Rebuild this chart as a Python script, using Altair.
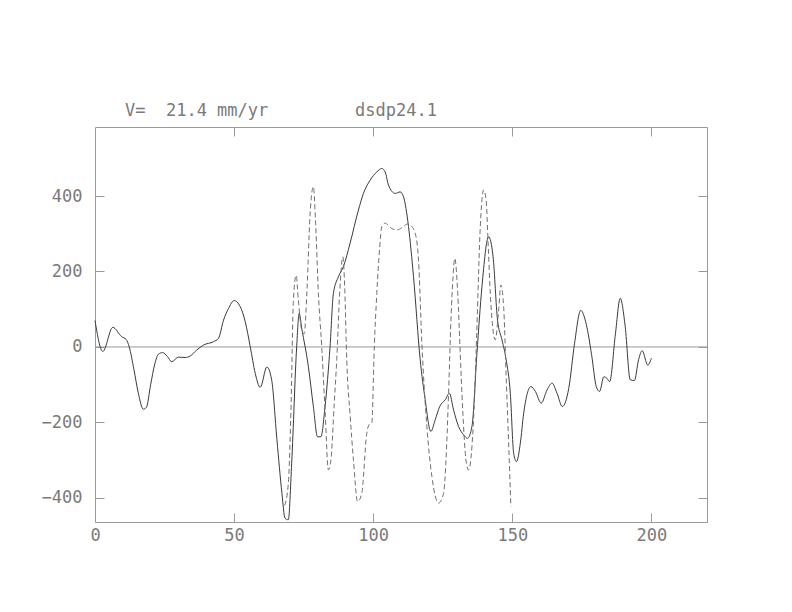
import altair as alt
import pandas as pd

# ---- data ----
solid_x = [0, 2.8, 6.4, 9.6, 11.2, 12.3, 14, 15.5, 17.4, 18.5, 20, 21.5, 22.8, 24.3, 26, 27.6,
           30, 32.4, 34.2, 36.6, 39, 42.6, 44.4, 46.2, 48, 50, 52.2, 54, 55.8, 57.6, 59.4,
           61.8, 63.5, 65.4, 67.2, 68.3, 69.5, 70.7, 72.5, 73.4, 74.3, 76.7, 78.5, 80, 81.2,
           82.7, 84.5, 85.7, 87.5, 89.3, 91.7, 94.7, 96.5, 98.9, 101.3, 103.1, 104.3, 105.5,
           107.9, 109.7, 110.9, 112.7, 114.5, 116.9, 118.7, 120.7, 122.3, 123.9, 125.9, 127.4,
           128.9, 130.7, 132.5, 133.9, 135.5, 137.3, 139.1, 141.5, 143.1, 144.7, 146.3, 147.8,
           149.3, 150.5, 151.5, 152.9, 154.1, 156.7, 158.3, 160.4, 162.5, 164.3, 166.1, 168,
           170.3, 172.4, 174.6, 176.6, 178.5, 180.2, 181.4, 182.9, 184, 185, 187.1, 188.8,
           190.6, 192.4, 193.9, 195.4, 196.7, 198.7, 200]
solid_y = [70, -12, 52, 27, 20, 0, -60, -120, -165, -160, -100, -45, -19, -15, -25, -39,
           -27, -28, -24, -8, 5, 14, 23, 71, 102, 123, 107, 67, 1, -70, -107,
           -53, -87, -246, -388, -454, -458, -308, 1, 89, 50, -52, -158, -238, -238,
           -158, 1, 142, 186, 213, 275, 363, 407, 442, 464, 473, 464, 429,
           407, 411, 398, 319, 186, -34, -140, -224, -193, -158, -140, -123,
           -167, -211, -233, -242, -211, -17, 160, 292, 239, 71, 19, -34,
           -123, -282, -304, -255, -176, -105, -118, -149, -114, -96, -123, -158,
           -110, 10, 97, 60, -20, -105, -118, -79, -83, -92, 36, 129,
           54, -87, -89, -34, -10, -48, -30]

dash_x = [68.2, 69.5, 70.5, 71.3, 72.3, 73.1, 74.3, 75.2, 76.2, 77.3, 78.5, 79.3, 80.3, 81.5,
          82.7, 83.9, 84.8, 86.0, 86.9, 88.0, 89.1, 89.8, 90.5, 91.7, 92.9, 94.4, 95.9, 97.7,
          98.6, 99.5, 100.4, 101.3, 102.3, 103.1, 104.3, 105.5, 106.5, 108.5, 110.9, 112.3,
          113.5, 115.1, 116.3, 117.5, 119.3, 121.1, 123.5, 125.3, 126.3, 127.1, 128.0, 128.7,
          129.3, 130.4, 131.2, 131.9, 133.5, 134.3, 135.5, 136.5, 137.3, 138.5, 139.7, 140.6,
          141.4, 142.1, 143.9, 145.1, 145.9, 146.9, 147.8, 148.7, 149.5]
dash_y = [-420, -361, -150, 120, 190, 124, 45, 35, 150, 350, 425, 330, 142, 1,
          -167, -326, -300, -150, -34, 150, 239, 150, -34, -180, -299, -410, -388, -229,
          -205, -202, 0, 142, 260, 319, 328, 322, 315, 310, 319, 326,
          322, 301, 230, 10, -211, -343, -414, -388, -280, -123, 80, 186,
          235, 142, 0, -123, -308, -326, -264, -120, 54, 319, 416, 389,
          260, 142, 19, 98, 164, 107, -79, -255, -423]

x_ticks = [0, 50, 100, 150, 200]
x_ticks_top = [50, 100, 150, 200]
y_ticks = [-400, -200, 0, 200, 400]
x_domain = [0, 220]
y_domain = [-464, 583]
title_left = "V=\u00a0 21.4 mm/yr"
title_right = "dsdp24.1"

solid = pd.DataFrame({"x": solid_x, "y": solid_y})
dash = pd.DataFrame({"x": dash_x, "y": dash_y})

FONT = "DejaVu Sans Mono"
FS = 17
LABEL_COLOR = "#7a7a7a"
FRAME = "#9a9a9a"

xscale = alt.Scale(domain=x_domain, nice=False, zero=False)
yscale = alt.Scale(domain=y_domain, nice=False, zero=False)

common = dict(offset=-9, tickSize=9, domain=False, grid=False, title=None,
              tickColor=FRAME, tickWidth=1, labelFont=FONT, labelFontSize=FS,
              labelColor=LABEL_COLOR, labelFlush=False, labelOverlap=False)

bottom_axis = alt.Axis(orient="bottom", values=x_ticks, labelPadding=5, format="d", **common)
left_axis = alt.Axis(orient="left", values=y_ticks, labelPadding=13, format="d", **common)
top_axis = alt.Axis(orient="top", values=x_ticks_top, labels=False, **common)
right_axis = alt.Axis(orient="right", values=y_ticks, labels=False, **common)

zero = alt.Chart(pd.DataFrame({"y": [0]})).mark_rule(color=FRAME, strokeWidth=1).encode(
    y=alt.Y("y:Q", scale=yscale, axis=None)
)

line_solid = alt.Chart(solid).mark_line(color="#3a3a3a", strokeWidth=1, interpolate="monotone").encode(
    x=alt.X("x:Q", scale=xscale, axis=bottom_axis),
    y=alt.Y("y:Q", scale=yscale, axis=left_axis),
)

line_dash = alt.Chart(dash).mark_line(color="#6f6f6f", strokeWidth=1, strokeDash=[5, 3],
                                      interpolate="monotone").encode(
    x=alt.X("x:Q", scale=xscale, axis=top_axis),
    y=alt.Y("y:Q", scale=yscale, axis=right_axis),
)

t1 = alt.Chart(pd.DataFrame({"t": [title_left]})).mark_text(
    align="left", baseline="alphabetic", font=FONT, fontSize=FS, color=LABEL_COLOR
).encode(x=alt.value(30), y=alt.value(-11), text="t:N")

t2 = alt.Chart(pd.DataFrame({"t": [title_right]})).mark_text(
    align="left", baseline="alphabetic", font=FONT, fontSize=FS, color=LABEL_COLOR
).encode(x=alt.value(260), y=alt.value(-11), text="t:N")

chart = alt.layer(zero, line_solid, line_dash, t1, t2).resolve_axis(
    x="independent", y="independent"
).properties(
    width=612, height=395,
    padding={"left": 87, "top": 119, "right": 60, "bottom": 60},
    autosize="none",
    background="white",
).configure_view(stroke=FRAME, strokeWidth=1)

chart.save("out.html", embed_options={"renderer": "svg", "actions": False})
